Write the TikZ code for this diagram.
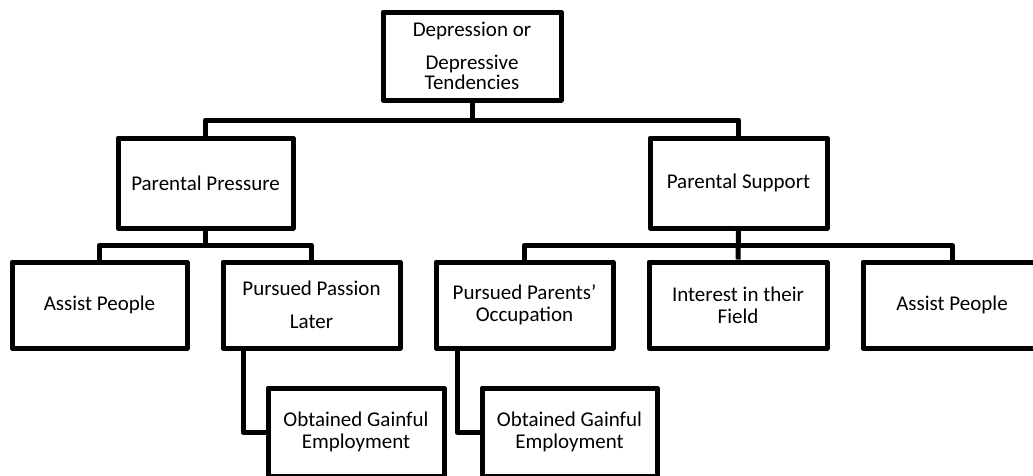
\documentclass[tikz,border=0pt]{standalone}
\usepackage{fontspec}
\setmainfont{Carlito}
\begin{document}
\begin{tikzpicture}[x=1pt,y=-1pt,
  box/.style={draw=black,line width=5pt,line join=round,fill=white,inner sep=0pt,
    align=center,font=\fontsize{21}{22}\selectfont},
  conn/.style={draw=black,line width=5pt,line join=round}]
\useasboundingbox (0,0) rectangle (1033,475);
\clip (0,0) rectangle (1033,475);
% nodes
\node[box,minimum width=178pt,minimum height=88pt,font=\fontsize{21}{20}\selectfont] (T) at (472,56) {Depression or\\[13pt]Depressive\\Tendencies};
\node[box,minimum width=175pt,minimum height=90pt] (PP) at (205.5,183) {Parental Pressure};
\node[box,minimum width=177pt,minimum height=90pt] (PS) at (738.5,183) {Parental Support};
\node[box,minimum width=175pt,minimum height=86pt] (A1) at (99.5,305) {Assist People};
\node[box,minimum width=177pt,minimum height=86pt] (PPL) at (311.5,305) {Pursued Passion\\[11pt]Later};
\node[box,minimum width=177pt,minimum height=86pt] (PPO) at (524.5,305) {Pursued Parents'\\Occupation};
\node[box,minimum width=178pt,minimum height=86pt] (IF) at (738,305) {Interest in their\\Field};
\node[box,minimum width=178pt,minimum height=86pt] (A2) at (952,305) {Assist People};
\node[box,minimum width=176pt,minimum height=88pt] (OG1) at (356,432) {Obtained Gainful\\Employment};
\node[box,minimum width=175pt,minimum height=88pt] (OG2) at (569.5,432) {Obtained Gainful\\Employment};
% connectors
\path[conn] (T.south) -- (T.south |- 0,120);
\path[conn] (PP.north) -- (PP.north |- 0,120) -- (PS.north |- 0,120) -- (PS.north);
\path[conn] (PP.south) -- (PP.south |- 0,245);
\path[conn] (A1.north) -- (A1.north |- 0,245) -- (PPL.north |- 0,245) -- (PPL.north);
\path[conn] (PS.south) -- (IF.north);
\path[conn] (PPO.north) -- (PPO.north |- 0,245) -- (A2.north |- 0,245) -- (A2.north);
\path[conn] (PPL.south -| 243,0) -- (243,0 |- OG1.west) -- (OG1.west);
\path[conn] (PPO.south -| 457,0) -- (457,0 |- OG2.west) -- (OG2.west);
\end{tikzpicture}
\end{document}
